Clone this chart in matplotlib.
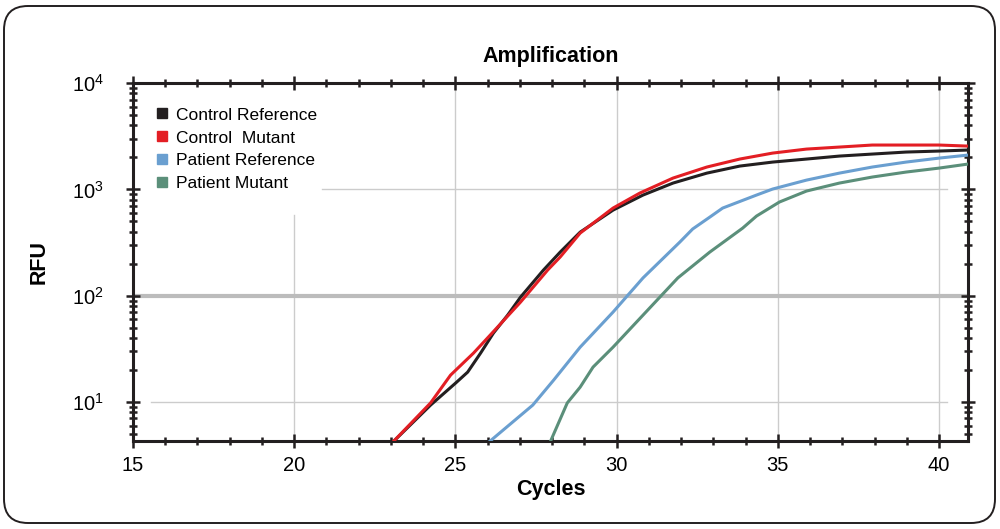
import matplotlib
matplotlib.use("Agg")
import matplotlib.pyplot as plt
from matplotlib.lines import Line2D
from matplotlib.patches import FancyBboxPatch
from matplotlib.ticker import LogLocator, MultipleLocator

plt.rcParams['font.family'] = ['Liberation Sans', 'DejaVu Sans']
plt.rcParams['mathtext.fontset'] = 'custom'
plt.rcParams['mathtext.rm'] = 'Liberation Sans'

# curves (cycle, RFU)
ctrl_ref_x = [23.06, 24.23, 25.01, 25.38, 25.78, 26.18, 26.62, 27.02, 27.73, 28.25, 28.87, 29.89,
              30.82, 31.75, 32.80, 33.82, 34.84, 35.89, 36.91, 37.93, 38.98, 40.0, 40.9]
ctrl_ref_y = [4.2, 9.35, 15.1, 19.1, 28.8, 44.5, 65.6, 96.9, 174, 257, 396, 638,
              884, 1146, 1422, 1656, 1806, 1928, 2057, 2148, 2244, 2293, 2344]

ctrl_mut_x = [23.06, 24.23, 24.85, 25.56, 26.08, 27.02, 27.86, 28.25, 28.87, 29.89, 30.72, 31.75,
              32.80, 33.82, 34.84, 35.89, 36.91, 37.93, 38.98, 40.0, 40.9]
ctrl_mut_y = [4.2, 9.8, 17.9, 28.8, 42.6, 87, 174, 231, 388, 667, 923, 1277,
              1622, 1928, 2194, 2393, 2500, 2612, 2612, 2612, 2553]

pat_ref_x = [26.04, 27.40, 28.05, 28.87, 29.89, 30.82, 31.96, 32.36, 32.89, 33.29, 34.34, 34.84,
             35.89, 36.91, 37.93, 38.98, 40.0, 40.9]
pat_ref_y = [4.2, 9.35, 16.1, 32.8, 70.1, 147, 319, 424, 548, 667, 884, 1007,
             1222, 1422, 1622, 1806, 1968, 2102]

pat_mut_x = [27.94, 28.47, 28.87, 29.27, 29.89, 31.90, 32.89, 33.91, 34.34, 35.05, 35.89, 36.91,
             37.93, 38.98, 40.0, 40.9]
pat_mut_y = [4.2, 9.8, 13.8, 21.3, 32.8, 147, 257, 432, 561, 760, 964, 1146,
             1306, 1455, 1585, 1730]

labels = ['Control Reference', 'Control  Mutant', 'Patient Reference', 'Patient Mutant']
colors = ['#231f20', '#e31e24', '#6a9fd0', '#5b8f7a']
threshold = 100

fig = plt.figure(figsize=(10, 5.29), dpi=100)
ax = fig.add_axes([0.133, 0.1664, 0.835, 0.6766])

# rounded frame around the whole picture
frame = FancyBboxPatch((4, 6), 991, 517, boxstyle="round,pad=0,rounding_size=24",
                       transform=None, facecolor='none', edgecolor='#231f20', linewidth=1.4)
fig.patches.append(frame)

ax.set_yscale('log')
ax.set_xlim(15, 40.9)
ax.set_ylim(4.3, 1e4)

# grid lines, kept clear of the legend area like the original
grid_kw = dict(color='#cccccc', linewidth=1, zorder=0)
ax.axvline(20, ymax=0.63, **grid_kw)
for x in [25, 30, 35, 40]:
    ax.axvline(x, ymax=0.98, **grid_kw)
ax.axhline(1000, xmin=0.226, xmax=0.975, **grid_kw)
ax.axhline(10, xmin=0.022, xmax=0.975, **grid_kw)
ax.axhline(threshold, color='#bcbcbc', linewidth=3, zorder=1)

series = [(ctrl_ref_x, ctrl_ref_y, 0), (ctrl_mut_x, ctrl_mut_y, 1),
          (pat_ref_x, pat_ref_y, 2), (pat_mut_x, pat_mut_y, 3)]
for xs, ys, i in series:
    ax.plot(xs, ys, color=colors[i], linewidth=2.2, zorder=3, solid_joinstyle='round')

handles = [Line2D([], [], marker='s', linestyle='none', color=c, markersize=7) for c in colors]
ax.legend(handles, labels, loc='upper left', bbox_to_anchor=(0.024, 0.932), frameon=False,
          fontsize=12.5, handletextpad=0.3, labelspacing=0.45, borderpad=0,
          handlelength=1.0, borderaxespad=0)

ax.xaxis.set_major_locator(MultipleLocator(5))
ax.xaxis.set_minor_locator(MultipleLocator(1))
ax.yaxis.set_major_locator(LogLocator(base=10, numticks=10))
ax.yaxis.set_minor_locator(LogLocator(base=10, subs=range(2, 10), numticks=20))

for s in ax.spines.values():
    s.set_linewidth(2.2)
    s.set_color('#231f20')
ax.tick_params(which='both', direction='inout', top=True, right=True, color='#231f20', width=1.8)
ax.tick_params(which='major', length=10, labelsize=14.5)
ax.tick_params(axis='y', which='major', pad=16)
ax.tick_params(axis='x', which='major', pad=6)
ax.tick_params(which='minor', length=6)

ax.set_title('Amplification', fontsize=15.5, fontweight='bold', pad=15)
ax.set_xlabel('Cycles', fontsize=15.5, fontweight='bold', labelpad=3)
ax.set_ylabel('RFU', fontsize=15.5, fontweight='bold', labelpad=16)

fig.savefig('out.png', dpi=100)
